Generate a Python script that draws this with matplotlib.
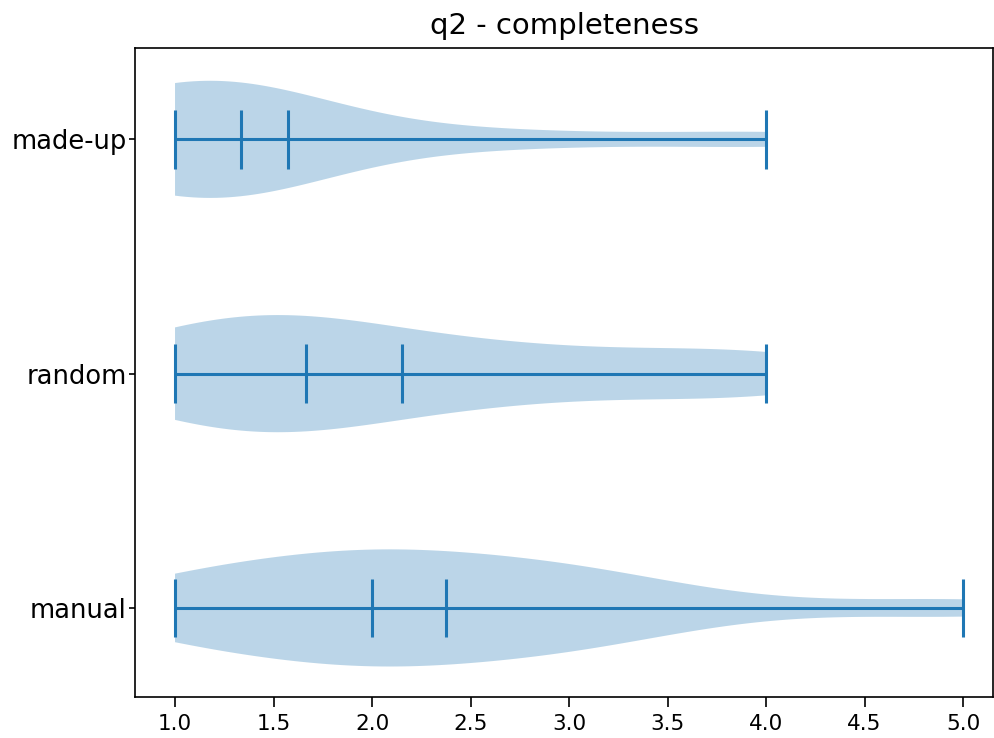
import matplotlib
matplotlib.use("Agg")
import matplotlib.pyplot as plt

# averaged scores (three raters -> steps of 1/3), read back from the violin shapes
manual = [1, 1, 1, 1,
          4/3, 4/3, 4/3,
          5/3, 5/3,
          2, 2, 2, 2, 2, 2, 2,
          7/3, 7/3,
          8/3, 8/3, 8/3, 8/3,
          3, 3, 3,
          10/3, 10/3, 10/3,
          4,
          5, 5]
random_ = [1, 1, 1, 1, 1,
           4/3, 4/3,
           5/3, 5/3, 5/3, 5/3, 5/3, 5/3,
           2,
           7/3, 7/3,
           8/3, 8/3,
           3,
           10/3,
           11/3,
           4, 4, 4]
made_up = [1, 1, 1, 1, 1,
           4/3, 4/3, 4/3,
           5/3,
           8/3,
           4]

labels = ["manual", "random", "made-up"]
title = "q2 - completeness"

fig = plt.figure(figsize=(9.95, 7.38), dpi=100)
ax = fig.add_axes([0.1357, 0.0556, 0.8623, 0.8794])

parts = ax.violinplot([manual, random_, made_up], vert=False,
                      showmeans=True, showmedians=True, showextrema=True)
for body in parts["bodies"]:
    body.set_alpha(0.3)
for key in ("cmeans", "cmedians", "cmins", "cmaxes", "cbars"):
    parts[key].set_linewidth(2.2)

ax.set_xlim(0.797, 5.152)
ax.set_ylim(0.62, 3.39)
ax.set_yticks([1, 2, 3], labels)
ax.set_xticks([1.0, 1.5, 2.0, 2.5, 3.0, 3.5, 4.0, 4.5, 5.0])
ax.tick_params(axis="y", labelsize=18.5, length=4, width=1.2, pad=2)
ax.tick_params(axis="x", labelsize=15.5, length=7, width=1.2, pad=5)
for spine in ax.spines.values():
    spine.set_linewidth(1.2)
ax.set_title(title, fontsize=21, pad=10)

fig.savefig("out.png", dpi=100)
